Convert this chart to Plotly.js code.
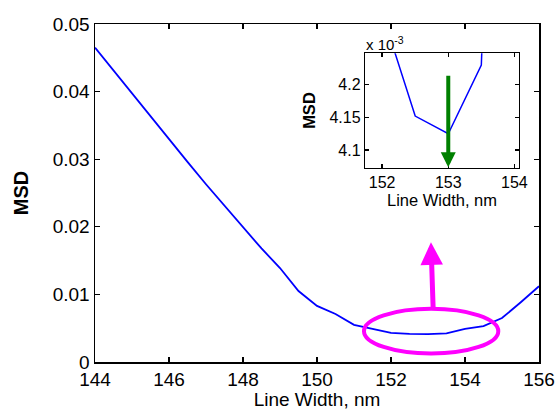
<!DOCTYPE html>
<html>
<head>
<meta charset="utf-8">
<script src="https://cdn.plot.ly/plotly-3.0.1.min.js"></script>
<style>html,body{margin:0;padding:0;background:#fff;}#chart{width:559px;height:410px;}</style>
</head>
<body>
<div id="chart"></div>
<script>
// Data
const lineWidth = [144, 144.5, 145, 145.5, 146, 146.5, 147, 147.5, 148, 148.5, 149, 149.5,
                   150, 150.5, 151, 151.5, 152, 152.5, 153, 153.5, 154, 154.5, 155, 155.5, 156];
const msd = [0.0465, 0.0431, 0.0397, 0.0363, 0.0329, 0.0296, 0.0263, 0.0231, 0.0199, 0.0168, 0.0139, 0.0105,
             0.0083, 0.0071, 0.0055, 0.0049, 0.00431, 0.004152, 0.004125, 0.00423, 0.0049, 0.0053, 0.0065, 0.0088, 0.0112];
const mainXTicks = [144, 146, 148, 150, 152, 154, 156];
const mainYTicks = [0, 0.01, 0.02, 0.03, 0.04, 0.05];
const mainYTickText = ['0', '0.01', '0.02', '0.03', '0.04', '0.05'];
const insetXTicks = [152, 153, 154];
const insetYTicks = [4.1, 4.15, 4.2];
const insetYTickText = ['4.1', '4.15', '4.2'];
const insetScale = 1e3;

const FONT = 'Arial, "Liberation Sans", sans-serif';
const msdScaled = msd.map(v => v * insetScale);

const traces = [
  {x: lineWidth, y: msd, type: 'scatter', mode: 'lines', xaxis: 'x', yaxis: 'y',
   line: {color: '#0000ff', width: 1.8}, hoverinfo: 'skip', showlegend: false},
  {x: lineWidth, y: msdScaled, type: 'scatter', mode: 'lines', xaxis: 'x2', yaxis: 'y2',
   line: {color: '#0000ff', width: 1.5}, hoverinfo: 'skip', showlegend: false, cliponaxis: true}
];

const axBase = {showgrid: false, zeroline: false, showline: true, linecolor: '#000', linewidth: 1.5,
  mirror: 'ticks', ticks: 'inside', ticklen: 5, tickwidth: 1.3, tickcolor: '#000'};

const layout = {
  width: 559, height: 410,
  margin: {l: 95, r: 20, t: 24, b: 47.5, pad: 0},
  paper_bgcolor: '#fff', plot_bgcolor: '#fff',
  font: {family: FONT, color: '#000', size: 19},
  showlegend: false,
  xaxis: Object.assign({}, axBase, {
    domain: [0, 1], range: [144, 156], tickvals: mainXTicks,
    tickfont: {size: 19},
    title: {text: 'Line Width, nm', font: {size: 19}, standoff: 4}
  }),
  yaxis: Object.assign({}, axBase, {
    domain: [0, 1], range: [0, 0.05], tickvals: mainYTicks, ticktext: mainYTickText,
    tickfont: {size: 19},
    title: {text: '<b>MSD</b>', font: {size: 20}, standoff: 18}
  }),
  xaxis2: Object.assign({}, axBase, {
    domain: [0.608, 0.955], range: [151.74, 154.07], anchor: 'y2',
    tickvals: insetXTicks, ticklen: 4, linewidth: 1.2, tickfont: {size: 16},
    title: {text: 'Line Width, nm', font: {size: 16.5}, standoff: 1}
  }),
  yaxis2: Object.assign({}, axBase, {
    domain: [0.5746, 0.9134], range: [4.073, 4.248], anchor: 'x2',
    tickvals: insetYTicks, ticktext: insetYTickText, ticklen: 4, linewidth: 1.2, tickfont: {size: 16},
    title: {text: '<b>MSD</b>', font: {size: 16.5}, standoff: 9}
  }),
  shapes: [
    {type: 'circle', xref: 'x', yref: 'y', x0: 151.27, x1: 154.9, y0: 0.00126, y1: 0.00787,
     line: {color: '#ff00ff', width: 4}}
  ],
  annotations: [
    {xref: 'x', yref: 'y', axref: 'x', ayref: 'y', x: 153.08, y: 0.0177, ax: 153.14, ay: 0.0078,
     text: '', showarrow: true, arrowhead: 2, arrowsize: 0.9, arrowwidth: 5, arrowcolor: '#ff00ff'},
    {xref: 'x2', yref: 'y2', axref: 'x2', ayref: 'y2', x: 153, y: 4.074, ax: 153, ay: 4.216,
     text: '', showarrow: true, arrowhead: 2, arrowsize: 0.75, arrowwidth: 4, arrowcolor: '#008000'},
    {xref: 'x2 domain', yref: 'y2 domain', x: 0, y: 1, xanchor: 'left', yanchor: 'bottom',
     text: 'x 10<sup>-3</sup>', showarrow: false, font: {size: 15}, xshift: -1, yshift: -2}
  ]
};

Plotly.newPlot('chart', traces, layout, {displayModeBar: false, staticPlot: true});
</script>
</body>
</html>
